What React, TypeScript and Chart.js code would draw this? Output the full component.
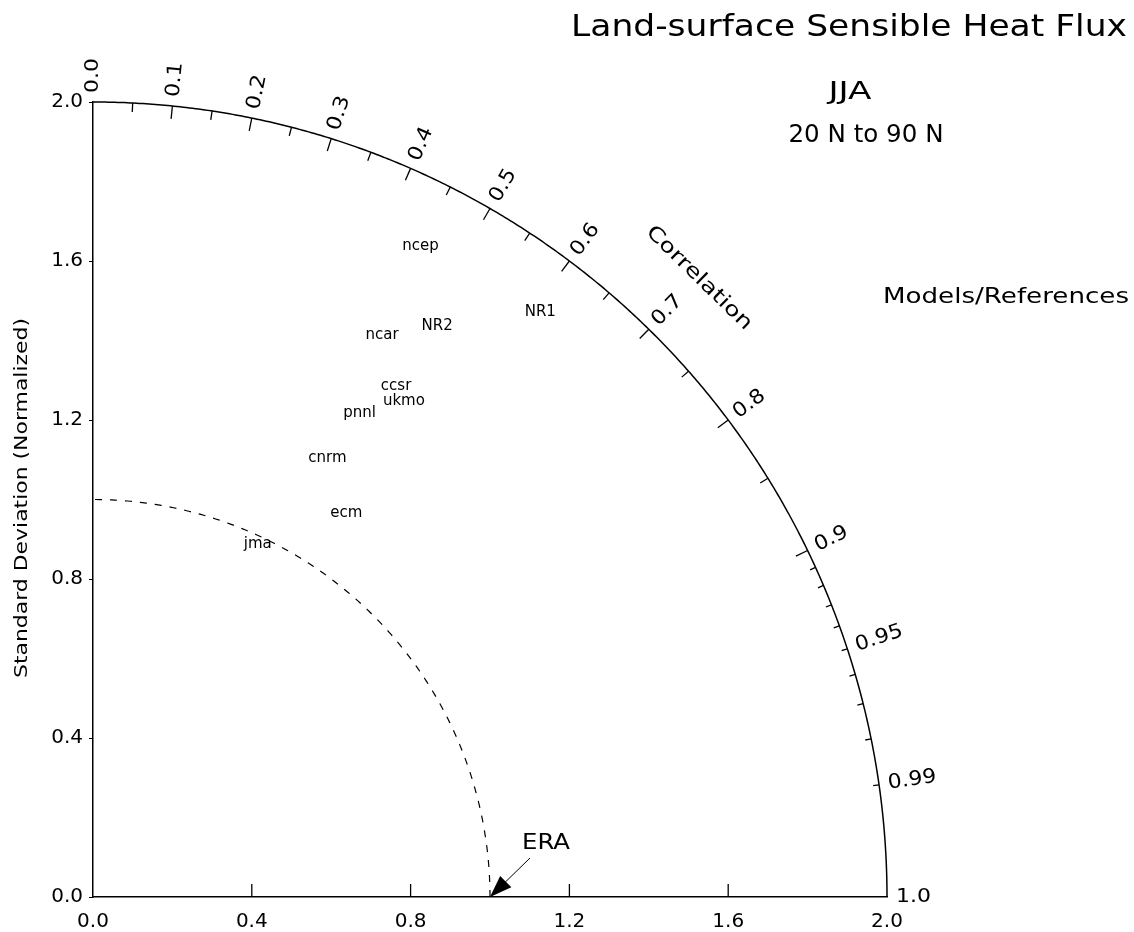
import React, { useEffect, useRef } from 'react';
import { Chart, registerables } from 'chart.js';

Chart.register(...registerables);

// ---- data ----
const modelNames = ['ncep', 'NR1', 'NR2', 'ncar', 'ccsr', 'ukmo', 'pnnl', 'cnrm', 'ecm', 'jma'];
const modelCorrelation = [0.450, 0.608, 0.517, 0.458, 0.511, 0.532, 0.483, 0.472, 0.551, 0.424];
const modelStdDev = [1.833, 1.853, 1.677, 1.590, 1.494, 1.472, 1.390, 1.251, 1.158, 0.979];

const referenceName = 'ERA';
const referenceCorrelation = 1.0;
const referenceStdDev = 1.0;

const stdAxisMax = 2.0;
const stdTickStep = 0.4;
const refCircleStd = 1.0;

const corrLabelTicks = [0.0, 0.1, 0.2, 0.3, 0.4, 0.5, 0.6, 0.7, 0.8, 0.9, 0.95, 0.99, 1.0];
const corrLabelText = ['0.0', '0.1', '0.2', '0.3', '0.4', '0.5', '0.6', '0.7', '0.8', '0.9', '0.95', '0.99', '1.0'];
const corrMajorTicks = [0.1, 0.2, 0.3, 0.4, 0.5, 0.6, 0.7, 0.8, 0.9];
const corrMinorTicks = [0.05, 0.15, 0.25, 0.35, 0.45, 0.55, 0.65, 0.75, 0.85];
const corrFineTicks = [0.91, 0.92, 0.93, 0.94, 0.95, 0.96, 0.97, 0.98, 0.99];

const chartTitle = 'Land-surface Sensible Heat Flux';
const seasonLabel = 'JJA';
const regionLabel = '20 N to 90 N';
const legendTitle = 'Models/References';
const yAxisTitle = 'Standard Deviation (Normalized)';
const corrAxisTitle = 'Correlation';
const corrTitlePosition = 0.7;

const toXY = (std: number, corr: number) => ({
  x: std * corr,
  y: std * Math.sqrt(Math.max(0, 1 - corr * corr)),
});

const FONT = '"DejaVu Sans", "Liberation Sans", sans-serif';

function fitText(
  ctx: CanvasRenderingContext2D,
  text: string,
  x: number,
  y: number,
  size: number,
  width: number | null,
  rot = 0,
  align: CanvasTextAlign = 'center',
  stretch = 1
) {
  ctx.save();
  ctx.font = `${size}px ${FONT}`;
  const w = ctx.measureText(text).width;
  ctx.translate(x, y);
  ctx.rotate(rot);
  if (width) ctx.scale(width / w, 1);
  else if (stretch !== 1) ctx.scale(stretch, 1);
  ctx.textAlign = align;
  ctx.textBaseline = 'middle';
  ctx.fillStyle = '#000';
  ctx.fillText(text, 0, 0);
  ctx.restore();
}

function polarPx(chart: any, std: number, corr: number): [number, number] {
  const p = toXY(std, corr);
  return [chart.scales.x.getPixelForValue(p.x), chart.scales.y.getPixelForValue(p.y)];
}

const taylorPlugin = {
  id: 'taylor',
  beforeDatasetsDraw(chart: any) {
    const ctx: CanvasRenderingContext2D = chart.ctx;
    const xs = chart.scales.x;
    const ys = chart.scales.y;
    const cx = xs.getPixelForValue(0);
    const cy = ys.getPixelForValue(0);
    ctx.save();
    ctx.strokeStyle = '#000';
    // outer arc
    ctx.lineWidth = 1.5;
    ctx.beginPath();
    for (let i = 0; i <= 400; i++) {
      const c = Math.cos((i / 400) * Math.PI / 2);
      const [px, py] = polarPx(chart, stdAxisMax, c);
      if (i === 0) ctx.moveTo(px, py); else ctx.lineTo(px, py);
    }
    ctx.stroke();
    // reference dashed arc
    ctx.lineWidth = 1.2;
    ctx.setLineDash([7, 8]);
    ctx.beginPath();
    for (let i = 0; i <= 200; i++) {
      const c = Math.cos((i / 200) * Math.PI / 2);
      const [px, py] = polarPx(chart, refCircleStd, c);
      if (i === 0) ctx.moveTo(px, py); else ctx.lineTo(px, py);
    }
    ctx.stroke();
    ctx.setLineDash([]);
    // correlation ticks
    const drawTick = (c: number, len: number) => {
      const [px, py] = polarPx(chart, stdAxisMax, c);
      const dx = px - cx, dy = py - cy;
      const n = Math.hypot(dx, dy);
      ctx.beginPath();
      ctx.moveTo(px, py);
      ctx.lineTo(px - (dx / n) * len, py - (dy / n) * len);
      ctx.stroke();
    };
    ctx.lineWidth = 1.3;
    corrMajorTicks.forEach((c) => drawTick(c, 13));
    corrMinorTicks.forEach((c) => drawTick(c, 9));
    corrFineTicks.forEach((c) => drawTick(c, 6));
    // correlation labels
    corrLabelTicks.forEach((c, i) => {
      const [px, py] = polarPx(chart, stdAxisMax, c);
      const dx = px - cx, dy = py - cy;
      const n = Math.hypot(dx, dy);
      const gap = 9;
      fitText(ctx, corrLabelText[i], px + (dx / n) * gap, py + (dy / n) * gap, 20, null, Math.atan2(dy, dx), 'left', 1.1);
    });
    // x-axis inward ticks
    ctx.lineWidth = 1.3;
    xs.ticks.forEach((t: any) => {
      if (t.value <= 0 || t.value >= stdAxisMax) return;
      const px = xs.getPixelForValue(t.value);
      ctx.beginPath();
      ctx.moveTo(px, cy);
      ctx.lineTo(px, cy - 13);
      ctx.stroke();
    });
    ctx.restore();
  },
  afterDatasetsDraw(chart: any) {
    const ctx: CanvasRenderingContext2D = chart.ctx;
    const meta = chart.getDatasetMeta(0);
    meta.data.forEach((el: any, i: number) => {
      fitText(ctx, modelNames[i], el.x, el.y, 15, null);
    });
    // reference point arrow
    const ref = chart.getDatasetMeta(1).data[0];
    const tx = ref.x, ty = ref.y;
    const ux = 40, uy = -39;
    const un = Math.hypot(ux, uy);
    const ex = ux / un, ey = uy / un;
    ctx.save();
    ctx.strokeStyle = '#000';
    ctx.fillStyle = '#000';
    ctx.lineWidth = 1;
    ctx.beginPath();
    ctx.moveTo(tx + ex * 10, ty + ey * 10);
    ctx.lineTo(tx + ux, ty + uy);
    ctx.stroke();
    const hl = 22, hw = 8;
    const bx = tx + ex * hl, by = ty + ey * hl;
    ctx.beginPath();
    ctx.moveTo(tx, ty);
    ctx.lineTo(bx - ey * hw, by + ex * hw);
    ctx.lineTo(bx + ey * hw, by - ex * hw);
    ctx.closePath();
    ctx.fill();
    ctx.restore();
    fitText(ctx, referenceName, tx + 56, ty - 54, 22, 48);
  },
  afterDraw(chart: any) {
    const ctx: CanvasRenderingContext2D = chart.ctx;
    fitText(ctx, chartTitle, 849, 28, 31, 556);
    fitText(ctx, seasonLabel, 850, 92, 25, 43);
    fitText(ctx, regionLabel, 866, 135, 25, 155);
    fitText(ctx, legendTitle, 1006, 298, 21, 246);
    fitText(ctx, yAxisTitle, 22, 498, 18, 360, -Math.PI / 2);
    const th = Math.acos(corrTitlePosition);
    const [px, py] = polarPx(chart, stdAxisMax * 1.09, corrTitlePosition);
    fitText(ctx, corrAxisTitle, px, py, 20, 140, Math.PI / 2 - th);
  },
};

export default function App() {
  const ref = useRef<HTMLCanvasElement | null>(null);
  useEffect(() => {
    if (!ref.current) return;
    const modelPoints = modelNames.map((_, i) => toXY(modelStdDev[i], modelCorrelation[i]));
    const refPoint = [toXY(referenceStdDev, referenceCorrelation)];
    const chart = new Chart(ref.current, {
      type: 'scatter',
      data: {
        datasets: [
          { label: 'models', data: modelPoints, pointRadius: 0, pointHoverRadius: 0 },
          { label: referenceName, data: refPoint, pointRadius: 0, pointHoverRadius: 0 },
        ],
      },
      options: {
        responsive: false,
        animation: false,
        maintainAspectRatio: false,
        layout: { padding: { left: 0, right: 247, top: 102, bottom: 0 } },
        plugins: { legend: { display: false }, tooltip: { enabled: false } },
        scales: {
          x: {
            type: 'linear',
            min: 0,
            max: stdAxisMax,
            afterFit: (s: any) => { s.height = 35; },
            ticks: {
              stepSize: stdTickStep,
              callback: (v: any) => Number(v).toFixed(1),
              font: { family: 'DejaVu Sans', size: 20 },
              color: '#000',
              padding: 13,
              autoSkip: false,
              maxRotation: 0,
            },
            grid: { drawOnChartArea: false, drawTicks: false },
            border: { color: '#000', width: 1.5 },
          },
          y: {
            type: 'linear',
            min: 0,
            max: stdAxisMax,
            afterFit: (s: any) => { s.width = 93; },
            ticks: {
              stepSize: stdTickStep,
              callback: (v: any) => Number(v).toFixed(1),
              font: { family: 'DejaVu Sans', size: 20 },
              color: '#000',
              padding: 6,
              autoSkip: false,
            },
            grid: { drawOnChartArea: false, drawTicks: true, tickLength: 4, color: '#000' },
            border: { color: '#000', width: 1.5 },
          },
        },
      } as any,
      plugins: [taylorPlugin],
    });
    return () => chart.destroy();
  }, []);
  return (
    <div style={{ position: 'absolute', left: 0, top: 0, width: 1134, height: 932, background: '#fff' }}>
      <canvas ref={ref} width={1134} height={932} style={{ display: 'block' }} />
    </div>
  );
}
